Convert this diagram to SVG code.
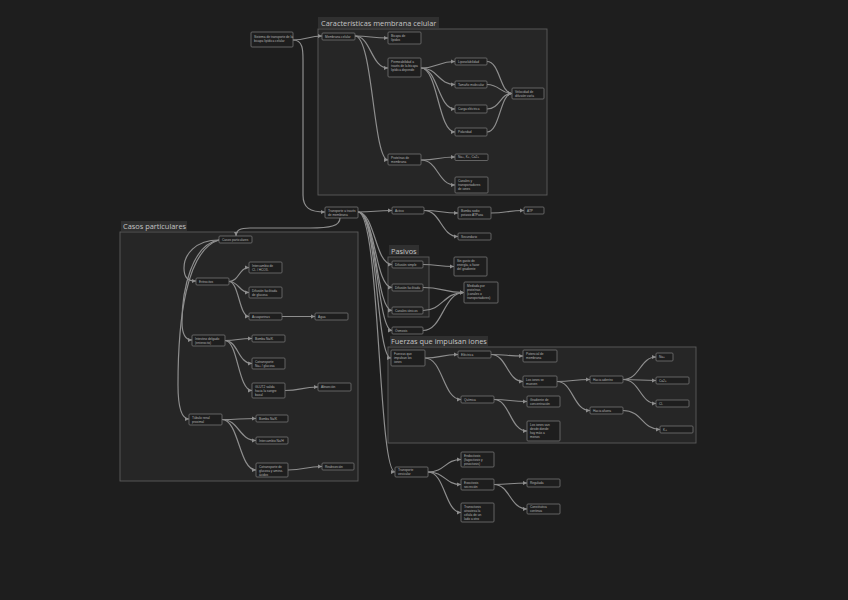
<svg xmlns="http://www.w3.org/2000/svg" width="848" height="600" viewBox="0 0 848 600">
<style>
.bg{fill:#1e1e1e}
.grp{fill:#262626;stroke:#5c5c5c;stroke-width:0.9}
.gt{fill:#303030}
.gtt{font-family:"Open Sans","Liberation Sans",sans-serif;font-size:7.4px;fill:#c4c4c4}
.n rect{fill:#1e1e1e;stroke:#747474;stroke-width:0.8}
.n text{font-family:"Liberation Sans",Arial,sans-serif;font-size:3.2px;fill:#b4b4b4}
.e path{fill:none;stroke:#8e8e8e;stroke-width:1.2;marker-end:url(#a)}
</style>
<defs>
<marker id="a" viewBox="0 0 6 6" refX="6" refY="3" markerWidth="4.5" markerHeight="4.5" markerUnits="userSpaceOnUse" orient="auto"><path d="M0,0 L6,3 L0,6 z" fill="#8e8e8e"/></marker>
</defs>
<rect class="bg" x="0" y="0" width="848" height="600"/>

<g id="groups">
<rect class="grp" x="318" y="29" width="229" height="166"/>
<rect class="gt" x="318" y="17" width="121" height="11"/>
<text class="gtt" x="321" y="25.5">Características membrana celular</text>
<rect class="grp" x="120" y="232" width="238" height="249"/>
<rect class="gt" x="121" y="221" width="66" height="10"/>
<text class="gtt" x="123" y="229">Casos particulares</text>
<rect class="grp" x="388" y="257" width="41" height="60"/>
<rect class="gt" x="389" y="245" width="30" height="10"/>
<text class="gtt" x="391" y="253.5">Pasivos</text>
<rect class="grp" x="388" y="347" width="308" height="96"/>
<rect class="gt" x="390" y="336" width="98" height="10"/>
<text class="gtt" x="391" y="344">Fuerzas que impulsan iones</text>
</g>

<g id="connectors" class="e">
<path d="M293,40 C307,40 308,36 322,36"/>
<path d="M293,40 C303,40 303,50 303,60 L303,195 C303,208 310,212 325,212"/>
<path d="M355,36 C371,36 371,38 388,38"/>
<path d="M355,36 C371,36 371,68 388,68"/>
<path d="M355,36 C373,36 373,160 388,160"/>
<path d="M421,68 C438,68 438,61.5 455,61.5"/>
<path d="M421,68 C438,68 438,84.5 455,84.5"/>
<path d="M421,68 C438,68 438,109 455,109"/>
<path d="M421,68 C438,68 438,132 455,132"/>
<path d="M487,61.5 C500,61.5 500,93.5 512,93.5"/>
<path d="M487,84.5 C500,84.5 500,93.5 512,93.5"/>
<path d="M487,109 C500,109 500,93.5 512,93.5"/>
<path d="M487,132 C500,132 500,93.5 512,93.5"/>
<path d="M421,160 C438,160 438,157 455,157"/>
<path d="M421,160 C438,160 438,185 455,185"/>
<path d="M358,212 C375,212 375,210.5 392,210.5"/>
<path d="M340,218 C340,226 330,228 310,228 L250,228 C240,228 236,230 236,236"/>
<path d="M358,212 C375,212 375,264.5 392,264.5"/>
<path d="M358,212 C375,212 375,287.5 392,287.5"/>
<path d="M358,212 C376,212 376,310.5 392,310.5"/>
<path d="M358,212 C377,212 377,330.5 392,330.5"/>
<path d="M358,212 C378,212 376,358 391,358"/>
<path d="M358,212 C380,212 378,472 395,472"/>
<path d="M424,210.5 C441,210.5 441,213 458,213"/>
<path d="M424,210.5 C441,210.5 441,236.5 458,236.5"/>
<path d="M491,213 C507,213 507,210.5 524,210.5"/>
<path d="M219,240 C195,240 184,255 184,268 C184,278 188,281 196,281"/>
<path d="M219,240 C192,244 182,290 182,322 C182,335 186,340 192,340"/>
<path d="M219,240 C186,250 178,320 178,385 C178,410 182,419 189,419"/>
<path d="M229,281.5 C239,281.5 239,267.5 249,267.5"/>
<path d="M229,281.5 C239,281.5 239,292.5 249,292.5"/>
<path d="M229,281.5 C239,281.5 239,316.5 249,316.5"/>
<path d="M282,316.5 C298,316.5 298,316.5 315,316.5"/>
<path d="M225,340.5 C238,340.5 238,338.5 252,338.5"/>
<path d="M225,340.5 C238,340.5 238,363.5 252,363.5"/>
<path d="M225,340.5 C238,340.5 238,390.5 252,390.5"/>
<path d="M285,390.5 C301,390.5 301,387 318,387"/>
<path d="M222,419.5 C239,419.5 239,418.5 256,418.5"/>
<path d="M222,419.5 C239,419.5 239,440.5 256,440.5"/>
<path d="M222,419.5 C239,419.5 239,470 256,470"/>
<path d="M288,470 C305,470 305,466.5 322,466.5"/>
<path d="M423,264.5 C438,264.5 438,266.5 454,266.5"/>
<path d="M423,287.5 C443,287.5 443,292.5 464,292.5"/>
<path d="M423,310.5 C443,310.5 443,292.5 464,292.5"/>
<path d="M423,330.5 C443,330.5 443,292.5 464,292.5"/>
<path d="M425,358 C441,358 441,354.5 458,354.5"/>
<path d="M425,358 C443,358 443,399.5 461,399.5"/>
<path d="M491,354.5 C507,354.5 507,356 523,356"/>
<path d="M491,354.5 C507,354.5 507,381.5 523,381.5"/>
<path d="M557,381.5 C573,381.5 573,379.5 590,379.5"/>
<path d="M557,381.5 C573,381.5 573,410.5 590,410.5"/>
<path d="M623,379.5 C640,379.5 640,357 656,357"/>
<path d="M623,379.5 C640,379.5 640,380.5 656,380.5"/>
<path d="M623,379.5 C640,379.5 640,403.5 656,403.5"/>
<path d="M623,410.5 C642,410.5 642,429.5 660,429.5"/>
<path d="M494,399.5 C510,399.5 510,401.5 527,401.5"/>
<path d="M494,399.5 C510,399.5 510,431 527,431"/>
<path d="M428,472 C445,472 445,459.5 461,459.5"/>
<path d="M428,472 C445,472 445,484.5 461,484.5"/>
<path d="M428,472 C445,472 445,512.5 461,512.5"/>
<path d="M494,484.5 C510,484.5 510,483 527,483"/>
<path d="M494,484.5 C510,484.5 510,509 527,509"/>
</g>

<g id="n_root" class="n"><rect x="251" y="32" width="42" height="15" rx="1"/><text><tspan x="254" y="37.5">Sistema de transporte de la</tspan><tspan x="254" y="41.5">bicapa lipídica celular</tspan></text></g>
<g id="n_memb" class="n"><rect x="322" y="33" width="33" height="7" rx="1"/><text x="325" y="37.6">Membrana celular</text></g>
<g id="n_bicapa" class="n"><rect x="388" y="32" width="33" height="12" rx="1"/><text><tspan x="391" y="37">Bicapa de</tspan><tspan x="391" y="41">lípidos</tspan></text></g>
<g id="n_perm" class="n"><rect x="388" y="58" width="33" height="19" rx="1"/><text><tspan x="391" y="63">Permeabilidad a</tspan><tspan x="391" y="67">través de la bicapa</tspan><tspan x="391" y="71">lipídica depende</tspan></text></g>
<g id="n_lipo" class="n"><rect x="455" y="58" width="32" height="7" rx="1"/><text x="458" y="62.6">Liposolubilidad</text></g>
<g id="n_tam" class="n"><rect x="455" y="81" width="32" height="7" rx="1"/><text x="458" y="85.6">Tamaño molecular</text></g>
<g id="n_carga" class="n"><rect x="455" y="105" width="32" height="8" rx="1"/><text x="458" y="110">Carga eléctrica</text></g>
<g id="n_pol" class="n"><rect x="455" y="128" width="32" height="8" rx="1"/><text x="458" y="133">Polaridad</text></g>
<g id="n_vel" class="n"><rect x="512" y="88" width="32" height="11" rx="1"/><text><tspan x="515" y="92.5">Velocidad de</tspan><tspan x="515" y="96.5">difusión varía</tspan></text></g>
<g id="n_prot" class="n"><rect x="388" y="154" width="33" height="11" rx="1"/><text><tspan x="391" y="158.5">Proteínas de</tspan><tspan x="391" y="162.5">membrana</tspan></text></g>
<g id="n_ions" class="n"><rect x="455" y="154" width="33" height="6.5" rx="1"/><text x="458" y="158.4">Na+, K+, Ca2+</text></g>
<g id="n_canal" class="n"><rect x="455" y="177" width="33" height="16" rx="1"/><text><tspan x="458" y="182">Canales y</tspan><tspan x="458" y="186">transportadores</tspan><tspan x="458" y="190">de iones</tspan></text></g>

<g id="n_trans" class="n"><rect x="325" y="207" width="33" height="11" rx="1"/><text><tspan x="328" y="211.5">Transporte a través</tspan><tspan x="328" y="215.5">de membrana</tspan></text></g>
<g id="n_activo" class="n"><rect x="392" y="207" width="32" height="7" rx="1"/><text x="395" y="211.6">Activo</text></g>
<g id="n_bomba" class="n"><rect x="458" y="207" width="33" height="12" rx="1"/><text><tspan x="461" y="212">Bomba sodio</tspan><tspan x="461" y="216">potasio ATPasa</tspan></text></g>
<g id="n_atp" class="n"><rect x="524" y="207" width="20" height="7" rx="1"/><text x="527" y="211.6">ATP</text></g>
<g id="n_sec" class="n"><rect x="458" y="233" width="33" height="7" rx="1"/><text x="461" y="237.6">Secundario</text></g>

<g id="n_casos" class="n"><rect x="219" y="236" width="33" height="7" rx="1"/><text x="222" y="240.6">Casos particulares</text></g>
<g id="n_erit" class="n"><rect x="196" y="278" width="33" height="7" rx="1"/><text x="199" y="282.6">Eritrocitos</text></g>
<g id="n_e1" class="n"><rect x="249" y="262" width="33" height="11" rx="1"/><text><tspan x="252" y="266.5">Intercambio de</tspan><tspan x="252" y="270.5">Cl- / HCO3-</tspan></text></g>
<g id="n_e2" class="n"><rect x="249" y="287" width="33" height="11" rx="1"/><text><tspan x="252" y="291.5">Difusión facilitada</tspan><tspan x="252" y="295.5">de glucosa</tspan></text></g>
<g id="n_e3" class="n"><rect x="249" y="313" width="33" height="7" rx="1"/><text x="252" y="317.6">Acuaporinas</text></g>
<g id="n_e4" class="n"><rect x="315" y="313" width="33" height="7" rx="1"/><text x="318" y="317.6">Agua</text></g>
<g id="n_int" class="n"><rect x="192" y="335" width="33" height="11" rx="1"/><text><tspan x="195" y="339.5">Intestino delgado</tspan><tspan x="195" y="343.5">(enterocito)</tspan></text></g>
<g id="n_i1" class="n"><rect x="252" y="335" width="33" height="7" rx="1"/><text x="255" y="339.6">Bomba Na/K</text></g>
<g id="n_i2" class="n"><rect x="252" y="358" width="33" height="11" rx="1"/><text><tspan x="255" y="362.5">Cotransporte</tspan><tspan x="255" y="366.5">Na+ / glucosa</tspan></text></g>
<g id="n_i3" class="n"><rect x="252" y="383" width="33" height="15" rx="1"/><text><tspan x="255" y="387.5">GLUT2 salida</tspan><tspan x="255" y="391.5">hacia la sangre</tspan><tspan x="255" y="395.5">basal</tspan></text></g>
<g id="n_i4" class="n"><rect x="318" y="383" width="33" height="8" rx="1"/><text x="321" y="388">Absorción</text></g>
<g id="n_tub" class="n"><rect x="189" y="414" width="33" height="11" rx="1"/><text><tspan x="192" y="418.5">Túbulo renal</tspan><tspan x="192" y="422.5">proximal</tspan></text></g>
<g id="n_t1" class="n"><rect x="256" y="415" width="32" height="7" rx="1"/><text x="259" y="419.6">Bomba Na/K</text></g>
<g id="n_t2" class="n"><rect x="256" y="437" width="32" height="7" rx="1"/><text x="259" y="441.6">Intercambio Na/H</text></g>
<g id="n_t3" class="n"><rect x="256" y="463" width="32" height="14" rx="1"/><text><tspan x="259" y="467.5">Cotransporte de</tspan><tspan x="259" y="471.5">glucosa y amino-</tspan><tspan x="259" y="475.5">ácidos</tspan></text></g>
<g id="n_t4" class="n"><rect x="322" y="463" width="32" height="7" rx="1"/><text x="325" y="467.6">Reabsorción</text></g>

<g id="n_p1" class="n"><rect x="392" y="261" width="31" height="7" rx="1"/><text x="395" y="265.6">Difusión simple</text></g>
<g id="n_p2" class="n"><rect x="392" y="284" width="31" height="7" rx="1"/><text x="395" y="288.6">Difusión facilitada</text></g>
<g id="n_p3" class="n"><rect x="392" y="307" width="31" height="7" rx="1"/><text x="395" y="311.6">Canales iónicos</text></g>
<g id="n_p4" class="n"><rect x="392" y="327" width="31" height="7" rx="1"/><text x="395" y="331.6">Ósmosis</text></g>
<g id="n_pr1" class="n"><rect x="454" y="257" width="33" height="19" rx="1"/><text><tspan x="457" y="262">Sin gasto de</tspan><tspan x="457" y="266">energía, a favor</tspan><tspan x="457" y="270">del gradiente</tspan></text></g>
<g id="n_pr2" class="n"><rect x="464" y="282" width="34" height="21" rx="1"/><text><tspan x="467" y="287">Mediada por</tspan><tspan x="467" y="291">proteínas</tspan><tspan x="467" y="295">(canales o</tspan><tspan x="467" y="299">transportadores)</tspan></text></g>

<g id="n_f" class="n"><rect x="391" y="350" width="34" height="16" rx="1"/><text><tspan x="394" y="355">Fuerzas que</tspan><tspan x="394" y="359">impulsan los</tspan><tspan x="394" y="363">iones</tspan></text></g>
<g id="n_el" class="n"><rect x="458" y="351" width="33" height="7" rx="1"/><text x="461" y="355.6">Eléctrica</text></g>
<g id="n_el1" class="n"><rect x="523" y="350" width="34" height="12" rx="1"/><text><tspan x="526" y="355">Potencial de</tspan><tspan x="526" y="359">membrana</tspan></text></g>
<g id="n_el2" class="n"><rect x="523" y="376" width="34" height="11" rx="1"/><text><tspan x="526" y="380.5">Los iones se</tspan><tspan x="526" y="384.5">mueven</tspan></text></g>
<g id="n_in" class="n"><rect x="590" y="376" width="33" height="7" rx="1"/><text x="593" y="380.6">Hacia adentro</text></g>
<g id="n_out" class="n"><rect x="590" y="407" width="33" height="7" rx="1"/><text x="593" y="411.6">Hacia afuera</text></g>
<g id="n_na" class="n"><rect x="656" y="353" width="17" height="8" rx="1"/><text x="659" y="358">Na+</text></g>
<g id="n_ca" class="n"><rect x="656" y="377" width="33" height="7" rx="1"/><text x="659" y="381.6">Ca2+</text></g>
<g id="n_cl" class="n"><rect x="656" y="400" width="33" height="7" rx="1"/><text x="659" y="404.6">Cl-</text></g>
<g id="n_k" class="n"><rect x="660" y="426" width="33" height="7" rx="1"/><text x="663" y="430.6">K+</text></g>
<g id="n_q" class="n"><rect x="461" y="396" width="33" height="7" rx="1"/><text x="464" y="400.6">Química</text></g>
<g id="n_q1" class="n"><rect x="527" y="396" width="33" height="11" rx="1"/><text><tspan x="530" y="400.5">Gradiente de</tspan><tspan x="530" y="404.5">concentración</tspan></text></g>
<g id="n_q2" class="n"><rect x="527" y="421" width="33" height="20" rx="1"/><text><tspan x="530" y="426">Los iones van</tspan><tspan x="530" y="430">desde donde</tspan><tspan x="530" y="434">hay más a</tspan><tspan x="530" y="438">menos</tspan></text></g>

<g id="n_ves" class="n"><rect x="395" y="467" width="33" height="10" rx="1"/><text><tspan x="398" y="471.2">Transporte</tspan><tspan x="398" y="475.2">vesicular</tspan></text></g>
<g id="n_v1" class="n"><rect x="461" y="452" width="33" height="15" rx="1"/><text><tspan x="464" y="457">Endocitosis</tspan><tspan x="464" y="461">(fagocitosis y</tspan><tspan x="464" y="465">pinocitosis)</tspan></text></g>
<g id="n_v2" class="n"><rect x="461" y="479" width="33" height="11" rx="1"/><text><tspan x="464" y="483.5">Exocitosis</tspan><tspan x="464" y="487.5">secreción</tspan></text></g>
<g id="n_v3" class="n"><rect x="461" y="503" width="33" height="19" rx="1"/><text><tspan x="464" y="508">Transcitosis</tspan><tspan x="464" y="512">atraviesa la</tspan><tspan x="464" y="516">célula de un</tspan><tspan x="464" y="520">lado a otro</tspan></text></g>
<g id="n_v4" class="n"><rect x="527" y="479" width="33" height="8" rx="1"/><text x="530" y="484">Regulada</text></g>
<g id="n_v5" class="n"><rect x="527" y="504" width="33" height="10" rx="1"/><text><tspan x="530" y="508.2">Constitutiva</tspan><tspan x="530" y="512.2">continua</tspan></text></g>
</svg>
